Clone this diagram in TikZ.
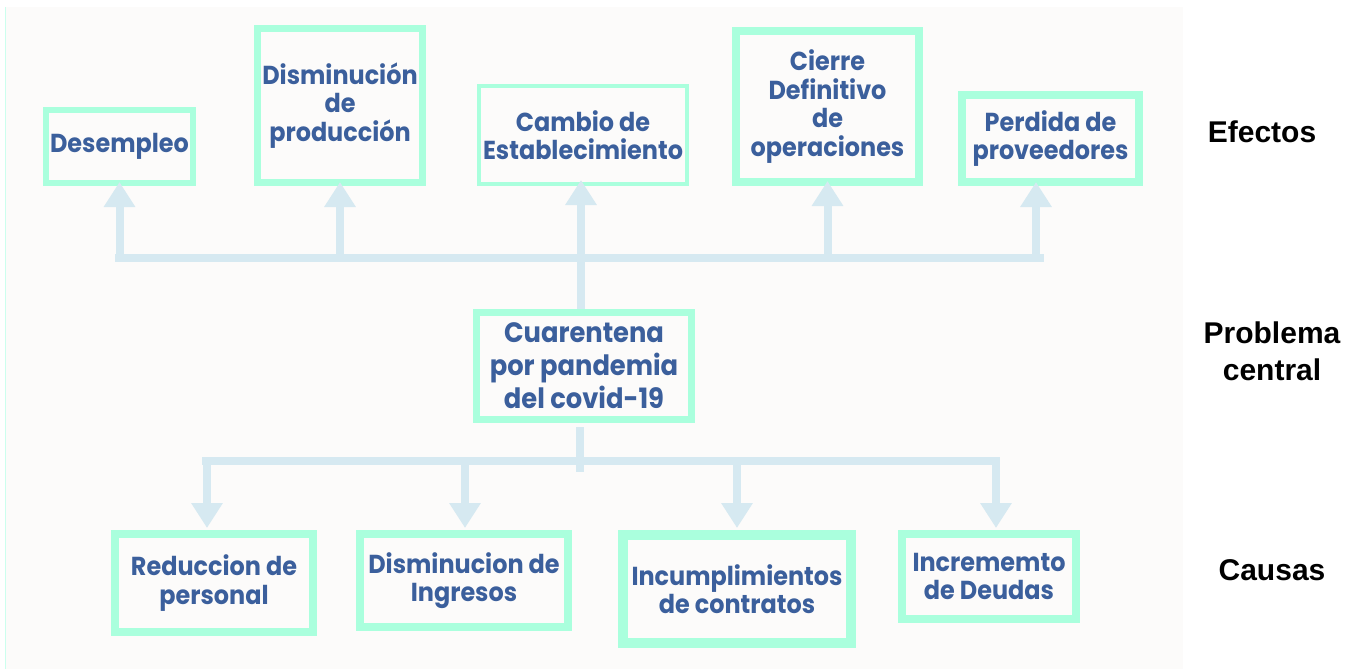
\documentclass[tikz,border=0pt]{standalone}
\usepackage{fontspec}
\setmainfont{Liberation Sans}
\newfontfamily\boxfont{Poppins}[FakeStretch=0.92]
\usetikzlibrary{arrows.meta}
\definecolor{boxc}{HTML}{AAFFDD}
\definecolor{txtc}{HTML}{3B5F9C}
\definecolor{arrc}{HTML}{D6E9F1}
\definecolor{panel}{HTML}{FCFBFA}
\definecolor{edgec}{HTML}{CCFFEE}
\begin{document}
\begin{tikzpicture}[x=1pt,y=-1pt,
  box/.style={draw=boxc, fill=panel, inner sep=0pt, align=center, text=txtc,
    font=\boxfont\bfseries\fontsize{26}{28.5}\selectfont},
  bigbox/.style={box, font=\boxfont\bfseries\fontsize{28}{33}\selectfont},
  conn/.style={draw=arrc, line width=8pt},
  arr/.style={conn, -{Triangle[width=30pt,length=25pt]}},
  lab/.style={font=\bfseries\fontsize{30}{37}\selectfont, align=center, text=black}]

\useasboundingbox (0,0) rectangle (1357,669);
\fill[white] (0,0) rectangle (1357,669);
\fill[panel] (5,7) rectangle (1183,669);
\draw[edgec, line width=1pt] (5.5,7) -- (5.5,669);

% effects
\node[box, line width=6pt, minimum width=147pt, minimum height=73pt] (desemp) at (119.5,146.5) {Desempleo};
\node[box, line width=7pt, minimum width=165pt, minimum height=154pt] (produc) at (340,105.5) {Disminución\\de\\producción};
\node[box, line width=4pt, minimum width=208pt, minimum height=98pt] (cambio) at (583,135) {Cambio de\\Establecimiento};
\node[box, line width=8pt, minimum width=183pt, minimum height=151pt] (cierre) at (827.5,106.5) {Cierre\\Definitivo\\de\\operaciones};
\node[box, line width=8pt, minimum width=177pt, minimum height=87pt] (perd) at (1050.5,138.5) {Perdida de\\proveedores};

% central problem
\node[bigbox, line width=7pt, minimum width=215pt, minimum height=107pt] (cuar) at (584,366) {Cuarentena\\por pandemia\\del covid-19};

% causes
\node[box, line width=8pt, minimum width=198pt, minimum height=98pt] (reduc) at (214,583) {Reduccion de\\personal};
\node[box, line width=8pt, minimum width=208pt, minimum height=93pt] (ingr) at (464,580.5) {Disminucion de\\Ingresos};
\node[box, line width=10pt, minimum width=228pt, minimum height=108pt] (incum) at (737,589) {Incumplimientos\\de contratos};
\node[box, line width=8pt, minimum width=174pt, minimum height=85pt] (incre) at (989,576.5) {Incrememto\\de Deudas};

% labels
\node[lab] (lefe) at (1262,132) {Efectos};
\node[lab] (lpro) at (1272,351) {Problema\\central};
\node[lab] (lcau) at (1272,570) {Causas};

% top connectors
\coordinate (tbL) at (115,258);
\coordinate (tbR) at (1044,258);
\coordinate (tbar) at (581,258);
\draw[conn] (tbL) -- (tbR);
\draw[arr] (desemp.south |- tbar) -- ([yshift=4pt]desemp.south);
\draw[arr] (produc.south |- tbar) -- ([yshift=4pt]produc.south);
\coordinate (ca) at ([xshift=-2pt]cambio.south);
\coordinate (cq) at ([xshift=-3pt]cuar.north);
\draw[arr] (cq) -- ([yshift=6pt]ca);
\draw[arr] (cierre.south |- tbar) -- ([yshift=5pt]cierre.south);
\coordinate (pa) at ([xshift=-14.5pt]perd.south);
\draw[arr] (pa |- tbar) -- ([yshift=4pt]pa);

% bottom connectors
\coordinate (bbL) at (202,461);
\coordinate (bbR) at (1000,461);
\coordinate (bbar) at (580,461);
\coordinate (bt) at (580,472);
\coordinate (cs) at ([xshift=-4pt,yshift=-4pt]cuar.south);
\draw[conn] (bbL) -- (bbR);
\draw[conn] (cs) -- (cs |- bt);
\coordinate (ra) at ([xshift=-7pt]reduc.north);
\draw[arr] (ra |- bbar) -- ([yshift=2pt]ra);
\coordinate (ia) at ([xshift=1pt]ingr.north);
\draw[arr] (ia |- bbar) -- ([yshift=2pt]ia);
\draw[arr] (incum.north |- bbar) -- ([yshift=2pt]incum.north);
\coordinate (da) at ([xshift=7pt]incre.north);
\draw[arr] (da |- bbar) -- ([yshift=2pt]da);
\end{tikzpicture}
\end{document}
